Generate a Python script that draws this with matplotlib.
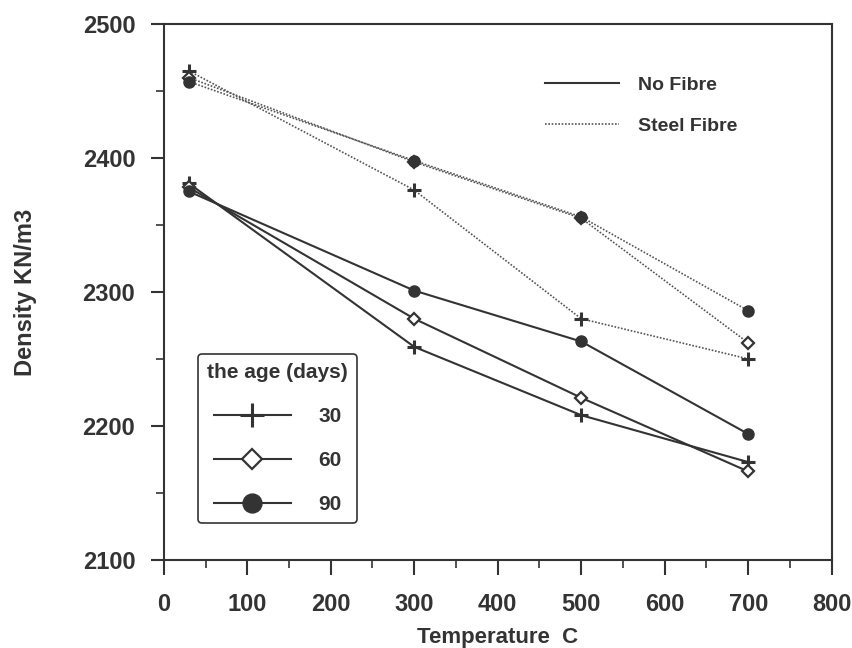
"""Density vs temperature for concrete with and without steel fibre."""

import matplotlib
matplotlib.use('Agg')
import matplotlib.pyplot as plt
from matplotlib.lines import Line2D
from matplotlib.ticker import MultipleLocator

plt.rcParams['font.family'] = ['Liberation Sans', 'DejaVu Sans']
plt.rcParams['font.weight'] = 'bold'

temperatures = [30, 300, 500, 700]
ages = ['30', '60', '90']

# no fibre (solid lines)
no_fibre_30 = [2381, 2259, 2208, 2173]
no_fibre_60 = [2378, 2280, 2221, 2166]
no_fibre_90 = [2375, 2301, 2263, 2194]

# steel fibre (dotted lines)
steel_30 = [2465, 2376, 2280, 2250]
steel_60 = [2460, 2397, 2355, 2262]
steel_90 = [2457, 2398, 2356, 2286]

ink = '#333333'
marker_styles = {
    '30': dict(marker='+', markersize=10, markeredgewidth=2.2,
               markerfacecolor=ink, markeredgecolor=ink),
    '60': dict(marker='D', markersize=6, markeredgewidth=1.6,
               markerfacecolor='white', markeredgecolor=ink),
    '90': dict(marker='o', markersize=8, markeredgewidth=1,
               markerfacecolor=ink, markeredgecolor=ink),
}

fig = plt.figure(figsize=(8.53, 6.48), dpi=100)
ax = fig.add_axes([0.192, 0.136, 0.783, 0.827])

for age, series in zip(ages, [no_fibre_30, no_fibre_60, no_fibre_90]):
    ax.plot(temperatures, series, color=ink, linewidth=1.5, linestyle='-',
            **marker_styles[age])
for age, series in zip(ages, [steel_30, steel_60, steel_90]):
    ax.plot(temperatures, series, color='#555555', linewidth=1.2,
            linestyle=(0, (1, 1)), **marker_styles[age])

ax.set_xlim(0, 800)
ax.set_ylim(2100, 2500)
ax.xaxis.set_major_locator(MultipleLocator(100))
ax.xaxis.set_minor_locator(MultipleLocator(50))
ax.yaxis.set_major_locator(MultipleLocator(100))
ax.yaxis.set_minor_locator(MultipleLocator(50))
ax.tick_params(which='major', direction='out', width=1.5,
               labelsize=17, colors=ink)
ax.tick_params(axis='x', which='major', length=11, pad=13)
ax.tick_params(axis='y', which='major', length=9.5, pad=11)
ax.tick_params(which='minor', direction='out', length=5.5, width=1.2,
               colors=ink)
for side in ax.spines.values():
    side.set_linewidth(1.5)
    side.set_color(ink)

ax.set_xlabel('Temperature  C', fontsize=16, fontweight='bold', color=ink)
ax.set_ylabel('Density KN/m3', fontsize=17, fontweight='bold', color=ink)
ax.xaxis.set_label_coords(0.5, -0.125)
ax.yaxis.set_label_coords(-0.19, 0.5)

# fibre legend (top right)
fibre_handles = [
    Line2D([], [], color=ink, linewidth=1.5, linestyle='-'),
    Line2D([], [], color='#555555', linewidth=1.2, linestyle=(0, (1, 1))),
]
leg1 = ax.legend(fibre_handles, ['No Fibre', 'Steel Fibre'],
                 loc='upper left', bbox_to_anchor=(0.571, 0.903),
                 frameon=False, fontsize=14, handlelength=3.8,
                 handletextpad=1.0, labelspacing=1.2, borderpad=0,
                 borderaxespad=0)
for t in leg1.get_texts():
    t.set_color(ink)
ax.add_artist(leg1)

# age legend (bottom left)
age_handles = [Line2D([], [], color=ink, linewidth=1.5, **marker_styles[a])
               for a in ages]
leg2 = ax.legend(age_handles, ages, title='the age (days)',
                 loc='lower left', bbox_to_anchor=(0.051, 0.068),
                 fontsize=15, title_fontsize=15, handlelength=3.7,
                 handletextpad=1.3, labelspacing=1.2, borderpad=0.45,
                 borderaxespad=0, markerscale=1.7, fancybox=True,
                 framealpha=1, edgecolor=ink)
leg2.get_frame().set_linewidth(1.2)
leg2.get_title().set_color(ink)
for t in leg2.get_texts():
    t.set_color(ink)

fig.savefig('out.png', dpi=100)
